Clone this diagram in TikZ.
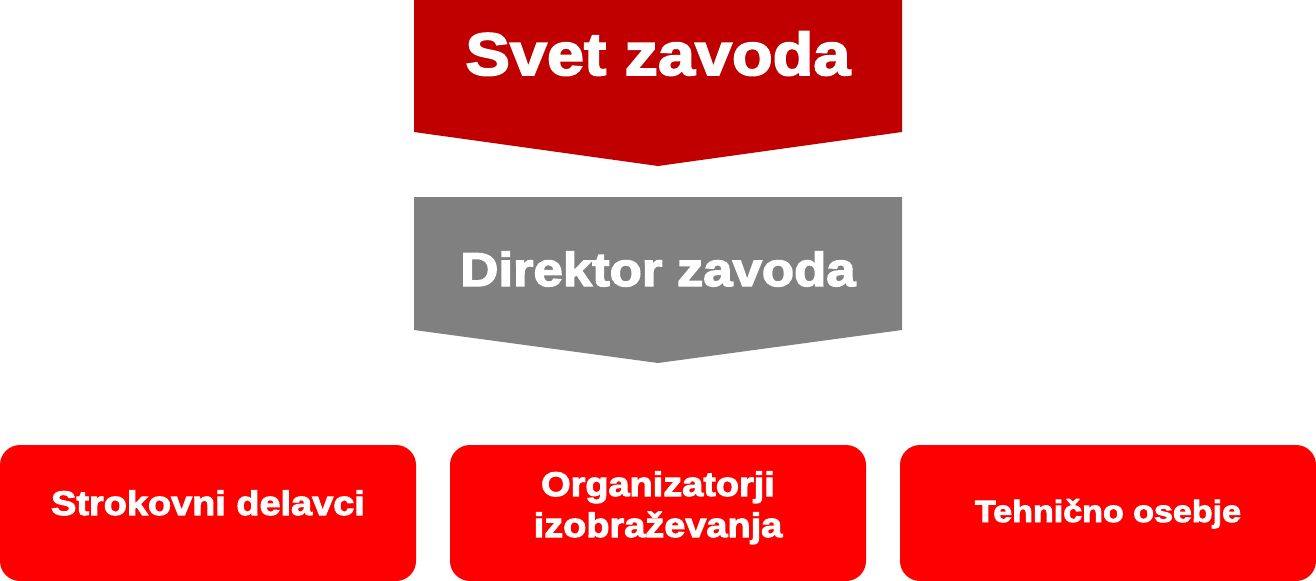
\documentclass[tikz,border=0pt]{standalone}
\usepackage{fontspec}
\setmainfont{Liberation Sans}[BoldFeatures={FakeBold=3,FakeStretch=1.11}]
\definecolor{svetred}{HTML}{C00000}
\definecolor{dirgray}{HTML}{808080}
\definecolor{boxred}{HTML}{FF0000}
\begin{document}
\begin{tikzpicture}[x=0.75pt,y=-0.75pt,font=\bfseries,
	txt/.style={text=white,anchor=base,inner sep=0pt,align=center},
	unitbox/.style={fill=boxred,rounded corners=15pt,minimum width=312pt,minimum height=102pt,inner sep=0pt}]
	\def\w{1316} \def\h{581}
	\useasboundingbox (0,0) rectangle (\w,\h);
	\fill[svetred] (414,0)--(902,0)--(902,132)--(658,166)--(414,132)--cycle;
	\fill[dirgray] (414,197)--(902,197)--(902,330)--(658,363)--(414,330)--cycle;
	\node[txt,font=\fontsize{45}{54}\bfseries] (svet) at (658,75) {Svet zavoda};
	\node[txt,font=\fontsize{35.6}{42}\bfseries] (direktor) at (658,286) {Direktor zavoda};
	\foreach \cx/\nm in {208/strokovni,658/organizatorji,1108/tehnicno}
		\node[unitbox] (\nm) at (\cx,513) {};
	\node[txt,font=\fontsize{25.6}{30}\bfseries] (strokovni-t) at (208,515) {Strokovni delavci};
	\node[txt,font=\fontsize{25.6}{30.75}\bfseries] (organizatorji-t) at (658,537) {Organizatorji\\izobraževanja};
	\node[txt,font=\fontsize{23}{28}\bfseries] (tehnicno-t) at (1108,522) {Tehnično osebje};
\end{tikzpicture}
\end{document}
